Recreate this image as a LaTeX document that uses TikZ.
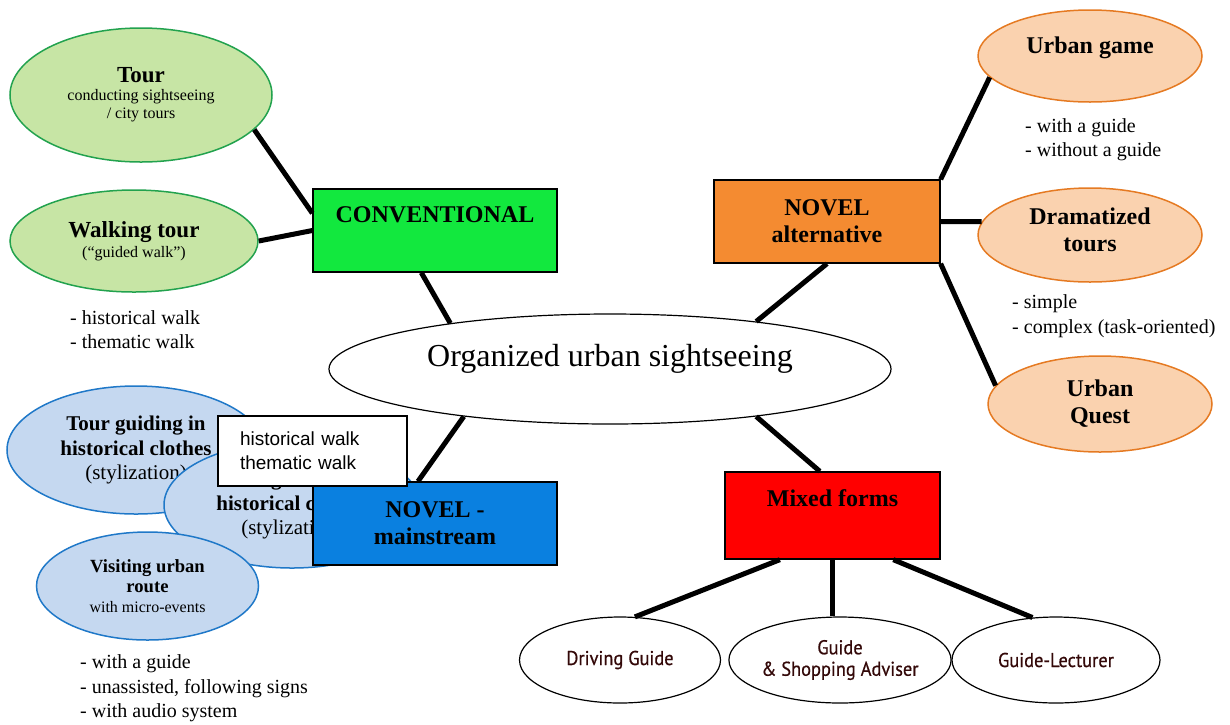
\documentclass[tikz,border=0pt]{standalone}
\usepackage{fontspec}
\setmainfont{Liberation Serif}
\newfontfamily\arialfont{Liberation Sans}
\newfontfamily\guidefont[FakeBold=0.6,FakeStretch=0.92]{PT Sans}
\usetikzlibrary{shapes.geometric}
\definecolor{convgreen}{HTML}{12E83E}
\definecolor{leafgreen}{HTML}{C7E5A5}
\definecolor{leafline}{HTML}{22A24E}
\definecolor{altorange}{HTML}{F48B31}
\definecolor{peach}{HTML}{FAD2AF}
\definecolor{peachline}{HTML}{E57A22}
\definecolor{mainblue}{HTML}{0A80E0}
\definecolor{skyblue}{HTML}{C5D8F0}
\definecolor{skyline}{HTML}{1F78C8}
\definecolor{guidetext}{HTML}{330808}
\newcommand{\headfont}{\bfseries\fontsize{24}{27}\selectfont}
\newcommand{\listfont}{\fontsize{20}{24.5}\selectfont}
\begin{document}
\begin{tikzpicture}[x=1pt,y=-1pt,
    box/.style={draw,line width=1.3pt,minimum height=83pt,inner sep=0pt,align=center,font=\headfont},
    leaf/.style={ellipse,draw=leafline,fill=leafgreen,line width=1.5pt,inner sep=0pt,align=center},
    peachy/.style={ellipse,draw=peachline,fill=peach,line width=1.5pt,inner sep=0pt,align=center,font=\headfont},
    sky/.style={ellipse,draw=skyline,fill=skyblue,line width=1.5pt,inner sep=0pt,align=center},
    guide/.style={ellipse,draw,line width=1.2pt,inner sep=0pt,align=center,text=guidetext,
        minimum height=86pt,font=\guidefont\fontsize{20}{21.5}\selectfont},
    dashlist/.style={anchor=west,inner sep=0pt,align=left,font=\listfont},
    link/.style={line width=5pt}]
\useasboundingbox (0,0) rectangle (1230,724);
% centre
\node[ellipse,draw,line width=1.2pt,minimum width=562pt,minimum height=110pt] (central) at (610,369) {};
\node[font=\fontsize{32}{36}\selectfont] (central-t) at (610,359) {Organized urban sightseeing};
% conventional
\node[box,fill=convgreen,minimum width=244pt] (conv) at (435,230.5) {};
\node[font=\headfont] (conv-t) at (435,215) {CONVENTIONAL};
\node[leaf,minimum width=262pt,minimum height=134pt,font=\fontsize{16}{18}\selectfont] (tour) at (141,95)
    {{\bfseries\fontsize{23}{24}\selectfont Tour}\\ conducting sightseeing\\ / city tours};
\node[leaf,minimum width=248pt,minimum height=102pt,font=\fontsize{16}{20}\selectfont] (walk) at (134,241)
    {{\bfseries\fontsize{23}{24}\selectfont Walking tour}\\ (``guided walk'')};
\node[dashlist] (walk-l) at (70,329.5) {- historical walk\\- thematic walk};
% novel alternative
\node[box,fill=altorange,minimum width=226pt] (nalt) at (827,221.5) {NOVEL\\alternative};
\node[peachy,minimum width=224pt,minimum height=92pt] (ugame) at (1090,56) {};
\node[font=\headfont] (ugame-t) at (1090,48) {Urban game};
\node[dashlist] (ugame-l) at (1025,139.5) {- with a guide\\- without a guide};
\node[peachy,minimum width=224pt,minimum height=94pt] (drama) at (1090,235) {};
\node[font=\headfont,align=center] (drama-t) at (1090,229.5) {Dramatized\\tours};
\node[dashlist] (drama-l) at (1012,316) {- simple\\- complex (task-oriented)};
\node[peachy,minimum width=224pt,minimum height=96pt] (uquest) at (1100,404) {Urban\\Quest};
% novel mainstream
\node[sky,minimum width=258pt,minimum height=128pt,font=\fontsize{21}{24.5}\selectfont] (clothes) at (136,450)
    {\textbf{Tour guiding in}\\ \textbf{historical clothes}\\ (stylization)};
\node[sky,minimum width=256pt,minimum height=126pt,font=\fontsize{21}{24.5}\selectfont] (clothes2) at (292,505)
    {\textbf{Tour guiding in}\\ \textbf{historical clothes}\\ (stylization)};
\node[box,fill=mainblue,minimum width=244pt] (nmain) at (435,523.5) {NOVEL -\\mainstream};
\node[draw,fill=white,line width=1.3pt,minimum height=70pt,text width=145pt,inner xsep=22pt,
    align=left,font=\arialfont\fontsize{19}{24}\selectfont] (walkbox) at (312.5,451) {historical walk\\thematic walk};
\node[sky,minimum width=222pt,minimum height=108pt,font=\fontsize{16}{20}\selectfont] (route) at (147.5,586)
    {{\bfseries\fontsize{18.6}{21}\selectfont Visiting urban}\\ {\bfseries\fontsize{18.6}{21}\selectfont route}\\ with micro-events};
\node[dashlist] (route-l) at (80,688.5) {- with a guide\\- unassisted, following signs\\- with audio system};
% mixed forms
\node[box,fill=red,minimum width=215pt,minimum height=87pt] (mixed) at (832.5,515.5) {};
\node[font=\headfont] (mixed-t) at (832.5,498) {Mixed forms};
\node[guide,minimum width=201pt] (drive) at (620,660) {Driving Guide};
\node[guide,minimum width=205pt] (shop) at (840,660) {Guide\\\& Shopping Adviser};
\node[guide,minimum width=208pt] (lect) at (1056,660) {Guide-Lecturer};
% connectors
\draw[link] (tour.343) -- (conv.172);
\draw[link] (walk.east) -- (conv.west);
\draw[link] (conv.252) -- (central.164);
\draw[link] (nalt.south) -- (central.18);
\draw[link] (nalt.north east) -- (ugame.192);
\draw[link] (nalt.east) -- (drama.173);
\draw[link] (nalt.south east) -- (uquest.170);
\draw[link] (central.198) -- (nmain.112);
\draw[link] (central.342) -- (mixed.106);
\draw[link] (mixed.220) -- (drive.71);
\draw[link] (mixed.south) -- (mixed.south |- shop.north);
\draw[link] (mixed.324) -- (lect.119);
\end{tikzpicture}
\end{document}
